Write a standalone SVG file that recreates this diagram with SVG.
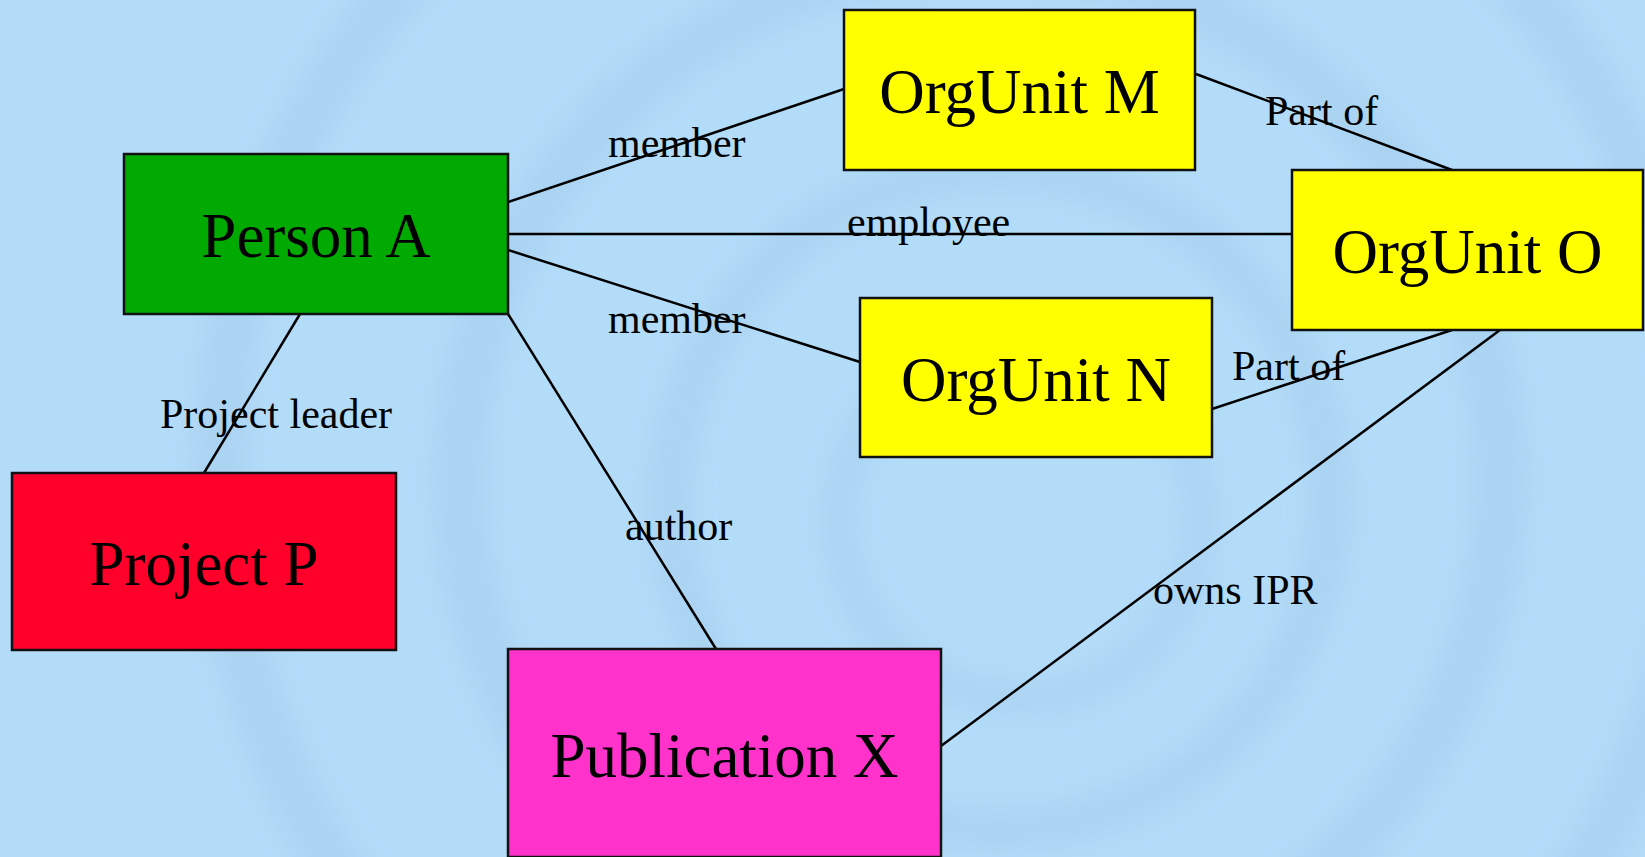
<svg xmlns="http://www.w3.org/2000/svg" width="1645" height="857" viewBox="0 0 1645 857">
<defs>
<style>
.box{stroke:#111;stroke-width:2.5}
.nl{font-family:"Liberation Serif","Times New Roman",serif;font-size:63px;fill:#000;text-anchor:middle}
.el{font-family:"Liberation Serif","Times New Roman",serif;font-size:42px;fill:#000}
.conn line{stroke:#000;stroke-width:2.5}
.swirl{fill:none;stroke:#8fb9db;stroke-opacity:0.25}
</style>
<filter id="blur" x="-20%" y="-20%" width="140%" height="140%"><feGaussianBlur stdDeviation="14"/></filter>
</defs>
<rect x="0" y="0" width="1645" height="857" fill="#b3dcf9"/>
<g filter="url(#blur)">
<circle class="swirl" cx="1020" cy="520" r="180" stroke-width="30"/>
<circle class="swirl" cx="1000" cy="500" r="330" stroke-width="40"/>
<circle class="swirl" cx="980" cy="480" r="520" stroke-width="50"/>
<circle class="swirl" cx="960" cy="470" r="740" stroke-width="50"/>
</g>
<g class="conn" id="connectors">
<line x1="508" y1="202" x2="844" y2="89"/>
<line x1="508" y1="234" x2="1292" y2="234"/>
<line x1="508" y1="250" x2="860" y2="362"/>
<line x1="300" y1="314" x2="204" y2="473"/>
<line x1="508" y1="314" x2="716" y2="649"/>
<line x1="1196" y1="74" x2="1452" y2="170"/>
<line x1="1212" y1="409" x2="1452" y2="330"/>
<line x1="941" y1="746" x2="1500" y2="330"/>
<text class="el" x="608" y="157">member</text>
<text class="el" x="847" y="236">employee</text>
<text class="el" x="608" y="333">member</text>
<text class="el" x="1265" y="125">Part of</text>
<text class="el" x="1232" y="380">Part of</text>
<text class="el" x="160" y="428">Project leader</text>
<text class="el" x="625" y="540">author</text>
<text class="el" x="1153" y="604">owns IPR</text>
</g>
<g id="personA"><rect class="box" x="124" y="154" width="384" height="160" fill="#00aa00"/><text class="nl" x="316" y="257">Person A</text></g>
<g id="orgM"><rect class="box" x="844" y="10" width="351" height="160" fill="#ffff00"/><text class="nl" x="1019.5" y="113">OrgUnit M</text></g>
<g id="orgO"><rect class="box" x="1292" y="170" width="351" height="160" fill="#ffff00"/><text class="nl" x="1467.5" y="273">OrgUnit O</text></g>
<g id="orgN"><rect class="box" x="860" y="298" width="352" height="159" fill="#ffff00"/><text class="nl" x="1036" y="401">OrgUnit N</text></g>
<g id="projectP"><rect class="box" x="12" y="473" width="384" height="177" fill="#ff002b"/><text class="nl" x="204" y="585">Project P</text></g>
<g id="publicationX"><rect class="box" x="508" y="649" width="433" height="208" fill="#ff33cc"/><text class="nl" x="724.5" y="777">Publication X</text></g>
</svg>
